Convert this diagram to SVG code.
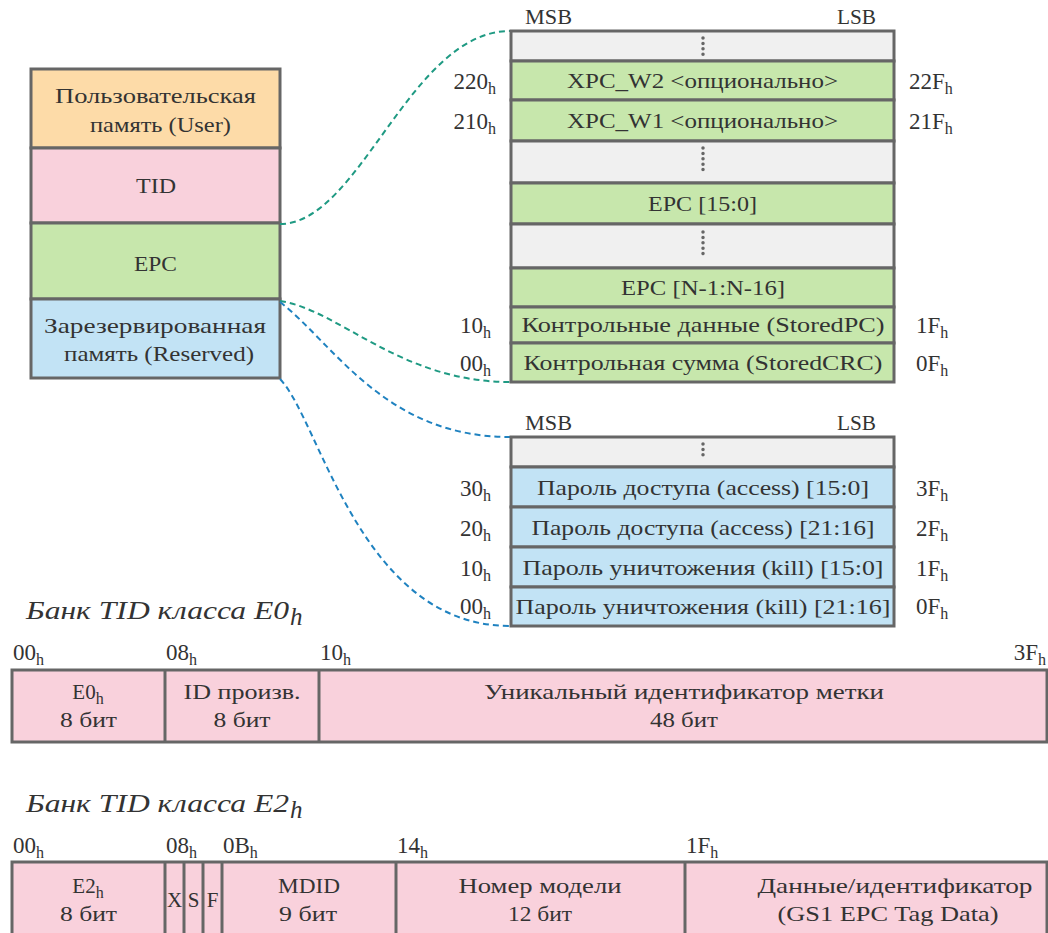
<svg xmlns="http://www.w3.org/2000/svg" width="1048" height="933" viewBox="0 0 1048 933">
  <style>
    text { font-family: "Liberation Serif", "DejaVu Serif", serif; font-size: 21px; fill: #333333; }
    .c { text-anchor: middle; }
    .r { text-anchor: end; }
    .num { font-size: 23px; }
    .sub { font-size: 16px; }
    .title { font-style: italic; font-size: 25px; }
    .cell { stroke: #666666; stroke-width: 3; }
    .user { fill: #FDDBA8; }
    .tid { fill: #F9D1DC; }
    .epc { fill: #C7E7AC; }
    .res { fill: #C2E3F5; }
    .gap { fill: #F0F0F0; }
    .dots { stroke: #666666; stroke-width: 3.5; stroke-linecap: round; stroke-dasharray: 0 5.4; fill: none; }
    .link { fill: none; stroke-width: 2; stroke-dasharray: 6 4; }
    .teal { stroke: #1F9A83; }
    .blue { stroke: #1F82C0; }
  </style>

  <!-- memory banks overview -->
  <g id="bank-user">
    <rect class="cell user" x="31" y="69" width="249" height="79"/>
    <text class="c" x="155.5" y="103" textLength="201" lengthAdjust="spacingAndGlyphs">Пользовательская</text>
    <text class="c" x="160.5" y="132" textLength="141" lengthAdjust="spacingAndGlyphs">память (User)</text>
  </g>
  <g id="bank-tid">
    <rect class="cell tid" x="31" y="148" width="249" height="75"/>
    <text class="c" x="156" y="193" textLength="40" lengthAdjust="spacingAndGlyphs">TID</text>
  </g>
  <g id="bank-epc">
    <rect class="cell epc" x="31" y="223" width="249" height="76"/>
    <text class="c" x="155.5" y="271" textLength="43" lengthAdjust="spacingAndGlyphs">EPC</text>
  </g>
  <g id="bank-reserved">
    <rect class="cell res" x="31" y="299" width="249" height="79"/>
    <text class="c" x="155" y="333" textLength="222" lengthAdjust="spacingAndGlyphs">Зарезервированная</text>
    <text class="c" x="159" y="361" textLength="190" lengthAdjust="spacingAndGlyphs">память (Reserved)</text>
  </g>

  <!-- connectors -->
  <g id="connectors">
    <path class="link teal" d="M280,224 C360,224 410,31 510,31"/>
    <path class="link teal" d="M280,301 C340,310 400,382 510,382"/>
    <path class="link blue" d="M280,302 C335,345 385,437 510,437"/>
    <path class="link blue" d="M280,379 C320,420 360,626 510,626"/>
  </g>

  <!-- EPC bank layout -->
  <g id="epc-bank">
    <text x="525" y="24" textLength="47" lengthAdjust="spacingAndGlyphs">MSB</text>
    <text x="837" y="24" textLength="39" lengthAdjust="spacingAndGlyphs">LSB</text>
    <rect class="cell gap" x="511" y="31" width="383" height="30"/>
    <line class="dots" x1="703" y1="38" x2="703" y2="55"/>
    <rect class="cell epc" x="511" y="61" width="383" height="39"/>
    <text class="c" x="702.5" y="88" textLength="271" lengthAdjust="spacingAndGlyphs">XPC_W2 &lt;опционально&gt;</text>
    <rect class="cell epc" x="511" y="100" width="383" height="41"/>
    <text class="c" x="702.5" y="128" textLength="271" lengthAdjust="spacingAndGlyphs">XPC_W1 &lt;опционально&gt;</text>
    <rect class="cell gap" x="511" y="141" width="383" height="42"/>
    <line class="dots" x1="703" y1="148" x2="703" y2="175"/>
    <rect class="cell epc" x="511" y="183" width="383" height="41"/>
    <text class="c" x="702.5" y="211" textLength="109" lengthAdjust="spacingAndGlyphs">EPC [15:0]</text>
    <rect class="cell gap" x="511" y="224" width="383" height="44"/>
    <line class="dots" x1="703" y1="232" x2="703" y2="259"/>
    <rect class="cell epc" x="511" y="268" width="383" height="39"/>
    <text class="c" x="703" y="295" textLength="164" lengthAdjust="spacingAndGlyphs">EPC [N-1:N-16]</text>
    <rect class="cell epc" x="511" y="307" width="383" height="36"/>
    <text class="c" x="703" y="332" textLength="363" lengthAdjust="spacingAndGlyphs">Контрольные данные (StoredPC)</text>
    <rect class="cell epc" x="511" y="343" width="383" height="39"/>
    <text class="c" x="703" y="370" textLength="359" lengthAdjust="spacingAndGlyphs">Контрольная сумма (StoredCRC)</text>

    <text class="r num" x="496" y="89">220<tspan class="sub" dy="5">h</tspan></text>
    <text class="r num" x="496" y="129">210<tspan class="sub" dy="5">h</tspan></text>
    <text class="r num" x="491" y="333">10<tspan class="sub" dy="5">h</tspan></text>
    <text class="r num" x="491" y="371">00<tspan class="sub" dy="5">h</tspan></text>
    <text class="num" x="909" y="89">22F<tspan class="sub" dy="5">h</tspan></text>
    <text class="num" x="909" y="129">21F<tspan class="sub" dy="5">h</tspan></text>
    <text class="num" x="916" y="333">1F<tspan class="sub" dy="5">h</tspan></text>
    <text class="num" x="916" y="371">0F<tspan class="sub" dy="5">h</tspan></text>
  </g>

  <!-- Reserved bank layout -->
  <g id="reserved-bank">
    <text x="525" y="430" textLength="47" lengthAdjust="spacingAndGlyphs">MSB</text>
    <text x="837" y="430" textLength="39" lengthAdjust="spacingAndGlyphs">LSB</text>
    <rect class="cell gap" x="511" y="437" width="383" height="30"/>
    <line class="dots" x1="703" y1="444" x2="703" y2="460"/>
    <rect class="cell res" x="511" y="467" width="383" height="40"/>
    <text class="c" x="703" y="495" textLength="332" lengthAdjust="spacingAndGlyphs">Пароль доступа (access) [15:0]</text>
    <rect class="cell res" x="511" y="507" width="383" height="40"/>
    <text class="c" x="703" y="535" textLength="343" lengthAdjust="spacingAndGlyphs">Пароль доступа (access) [21:16]</text>
    <rect class="cell res" x="511" y="547" width="383" height="40"/>
    <text class="c" x="703" y="575" textLength="361" lengthAdjust="spacingAndGlyphs">Пароль уничтожения (kill) [15:0]</text>
    <rect class="cell res" x="511" y="587" width="383" height="39"/>
    <text class="c" x="703" y="614" textLength="375" lengthAdjust="spacingAndGlyphs">Пароль уничтожения (kill) [21:16]</text>

    <text class="r num" x="491" y="496">30<tspan class="sub" dy="5">h</tspan></text>
    <text class="r num" x="491" y="536">20<tspan class="sub" dy="5">h</tspan></text>
    <text class="r num" x="491" y="576">10<tspan class="sub" dy="5">h</tspan></text>
    <text class="r num" x="491" y="614">00<tspan class="sub" dy="5">h</tspan></text>
    <text class="num" x="916" y="496">3F<tspan class="sub" dy="5">h</tspan></text>
    <text class="num" x="916" y="536">2F<tspan class="sub" dy="5">h</tspan></text>
    <text class="num" x="916" y="576">1F<tspan class="sub" dy="5">h</tspan></text>
    <text class="num" x="916" y="614">0F<tspan class="sub" dy="5">h</tspan></text>
  </g>

  <!-- TID class E0 -->
  <g id="tid-e0">
    <text class="title" x="26" y="619" textLength="263" lengthAdjust="spacingAndGlyphs">Банк TID класса E0</text>
    <text class="title" x="290" y="625" font-size="17">h</text>
    <text class="num" x="13" y="660">00<tspan class="sub" dy="5">h</tspan></text>
    <text class="num" x="166" y="660">08<tspan class="sub" dy="5">h</tspan></text>
    <text class="num" x="320" y="660">10<tspan class="sub" dy="5">h</tspan></text>
    <text class="r num" x="1046" y="660">3F<tspan class="sub" dy="5">h</tspan></text>
    <rect class="cell tid" x="12" y="670" width="1035" height="72"/>
    <line class="cell" x1="165" y1="670" x2="165" y2="742"/>
    <line class="cell" x1="319" y1="670" x2="319" y2="742"/>
    <text class="c" x="88" y="699">E0<tspan class="sub" dy="5">h</tspan></text>
    <text class="c" x="88.5" y="727" textLength="57" lengthAdjust="spacingAndGlyphs">8 бит</text>
    <text class="c" x="242" y="699" textLength="117" lengthAdjust="spacingAndGlyphs">ID произв.</text>
    <text class="c" x="242" y="727" textLength="57" lengthAdjust="spacingAndGlyphs">8 бит</text>
    <text class="c" x="684" y="699" textLength="400" lengthAdjust="spacingAndGlyphs">Уникальный идентификатор метки</text>
    <text class="c" x="684" y="727" textLength="68" lengthAdjust="spacingAndGlyphs">48 бит</text>
  </g>

  <!-- TID class E2 -->
  <g id="tid-e2">
    <text class="title" x="26" y="812" textLength="263" lengthAdjust="spacingAndGlyphs">Банк TID класса E2</text>
    <text class="title" x="290" y="818" font-size="17">h</text>
    <text class="num" x="13" y="853">00<tspan class="sub" dy="5">h</tspan></text>
    <text class="num" x="166" y="853">08<tspan class="sub" dy="5">h</tspan></text>
    <text class="num" x="223" y="853">0B<tspan class="sub" dy="5">h</tspan></text>
    <text class="num" x="397" y="853">14<tspan class="sub" dy="5">h</tspan></text>
    <text class="num" x="686" y="853">1F<tspan class="sub" dy="5">h</tspan></text>
    <rect class="cell tid" x="12" y="862" width="1035" height="80"/>
    <line class="cell" x1="165" y1="862" x2="165" y2="933"/>
    <line class="cell" x1="184" y1="862" x2="184" y2="933"/>
    <line class="cell" x1="203" y1="862" x2="203" y2="933"/>
    <line class="cell" x1="222" y1="862" x2="222" y2="933"/>
    <line class="cell" x1="396" y1="862" x2="396" y2="933"/>
    <line class="cell" x1="685" y1="862" x2="685" y2="933"/>
    <text class="c" x="88" y="893">E2<tspan class="sub" dy="5">h</tspan></text>
    <text class="c" x="88.5" y="921" textLength="57" lengthAdjust="spacingAndGlyphs">8 бит</text>
    <text class="c" x="174.5" y="907">X</text>
    <text class="c" x="193.5" y="907">S</text>
    <text class="c" x="212.5" y="907">F</text>
    <text class="c" x="309" y="893" textLength="62" lengthAdjust="spacingAndGlyphs">MDID</text>
    <text class="c" x="308" y="921" textLength="58" lengthAdjust="spacingAndGlyphs">9 бит</text>
    <text class="c" x="540" y="893" textLength="163" lengthAdjust="spacingAndGlyphs">Номер модели</text>
    <text class="c" x="540" y="921" textLength="64" lengthAdjust="spacingAndGlyphs">12 бит</text>
    <text class="c" x="895" y="893" textLength="275" lengthAdjust="spacingAndGlyphs">Данные/идентификатор</text>
    <text class="c" x="888" y="921" textLength="221" lengthAdjust="spacingAndGlyphs">(GS1 EPC Tag Data)</text>
  </g>
</svg>
